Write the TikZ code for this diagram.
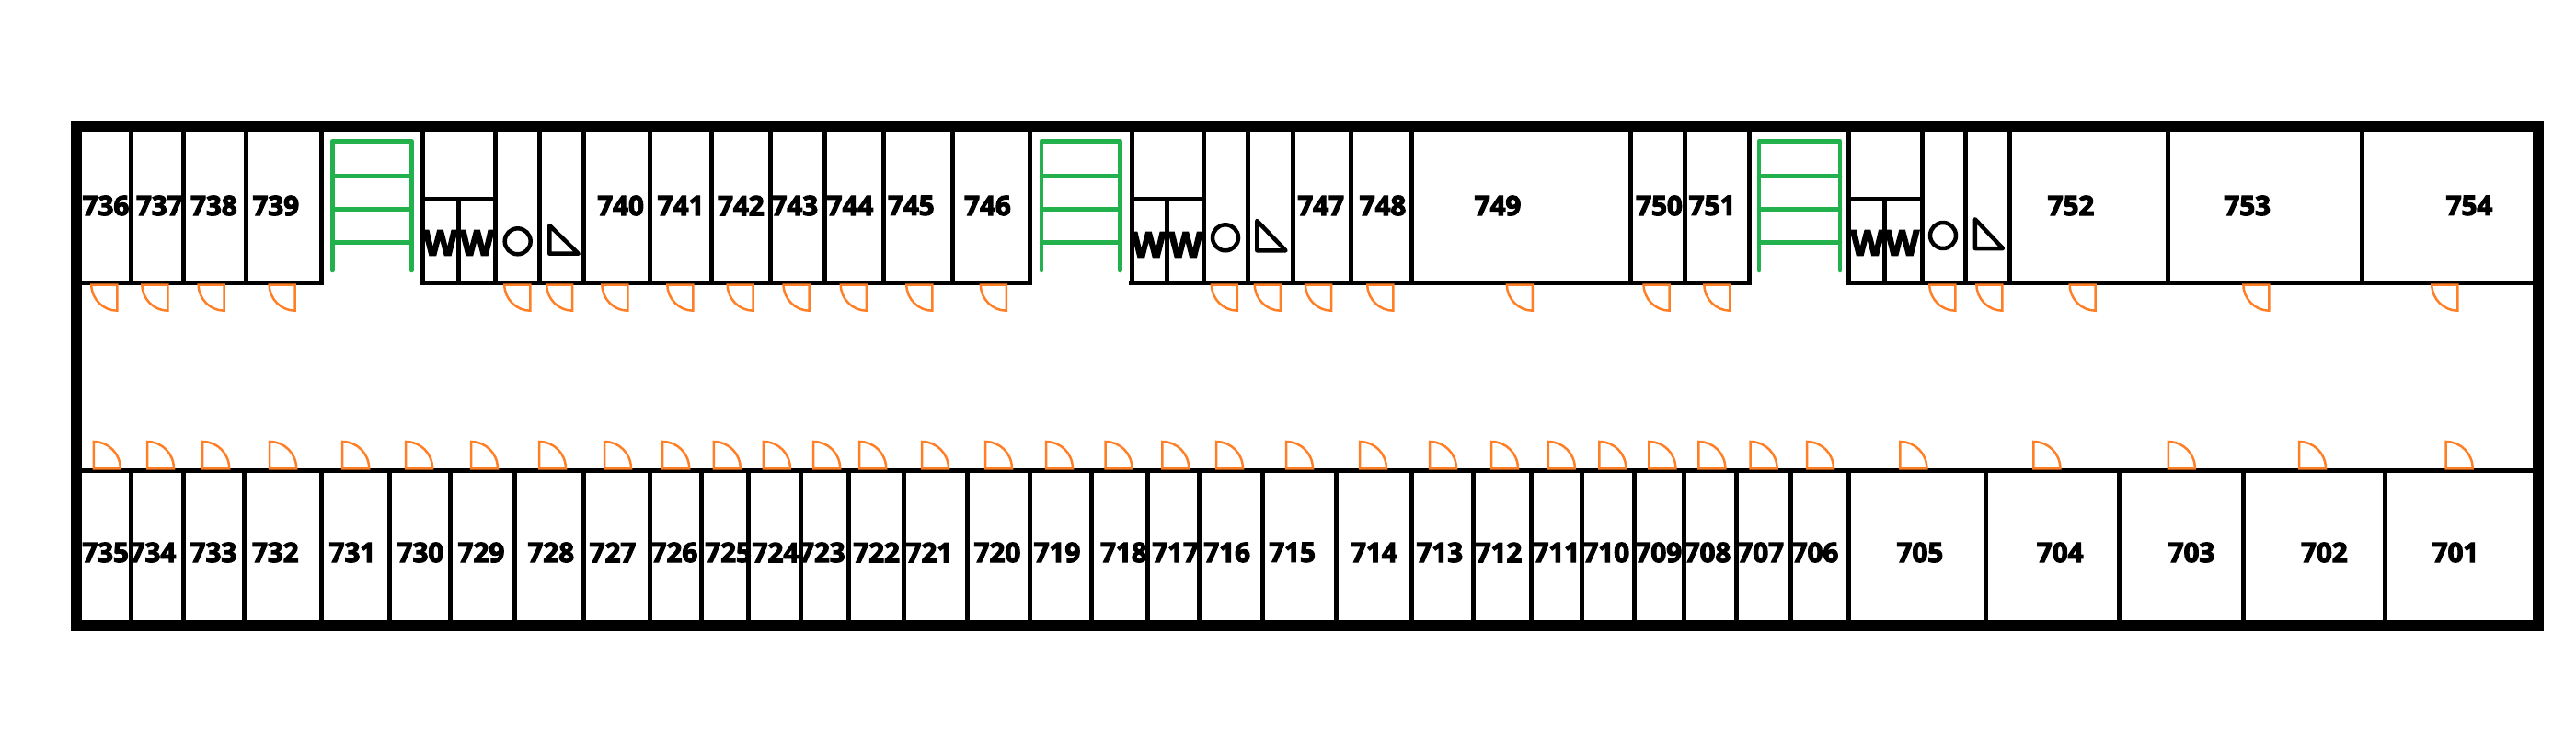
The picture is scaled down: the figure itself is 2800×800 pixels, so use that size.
\documentclass[tikz,border=0pt]{standalone}
\usepackage{fontspec}
\setmainfont{Open Sans}[BoldFeatures={FakeBold=4}]
\begin{document}
\begin{tikzpicture}[x=1pt,y=-1pt]
		\newcommand{\ytop}{142} % inner side of the top wall
		\newcommand{\yupper}{307.3} % upper side of the corridor
		\newcommand{\ylower}{511.3} % lower side of the corridor
		\newcommand{\ybot}{675}
		\newcommand{\ylabtop}{223.5}
		\newcommand{\ylabbot}{600.5}

		% set the styles of the plan
		\tikzset{
			outer/.style={line width=12pt},
			wall/.style={line width=5pt},
			part/.style={line width=5pt},
			stairs/.style={draw={rgb,255:red,34;green,177;blue,76},line width=4.5pt,line cap=round,line join=round},
			door/.style={draw={rgb,255:red,255;green,127;blue,39},line width=2.5pt},
			glyph/.style={line width=4.5pt,line join=round},
			room/.style={inner sep=0pt,font=\bfseries\fontsize{29.5}{30}\selectfont},
			wc/.style={inner sep=0pt,font=\bfseries\fontsize{38}{38}\selectfont}
		}
		\newcommand{\doorup}[1]{\draw[door] (#1,309.5) -- (#1-28,309.5) .. controls (#1-28,325) and (#1-15,337.7) .. (#1,337.7) -- cycle;}
		\newcommand{\doordown}[1]{\draw[door] (#1,509.3) -- (#1,480) .. controls (#1+16,480) and (#1+29,493) .. (#1+29,509.3) -- cycle;}
		\newcommand{\ladder}[2]{\draw[stairs] (#1,294) -- (#1,153.3) -- (#2,153.3) -- (#2,294);
			\draw[stairs] (#1,191.7) -- (#2,191.7);
			\draw[stairs] (#1,227.3) -- (#2,227.3);
			\draw[stairs] (#1,263.3) -- (#2,263.3);}

		\useasboundingbox (0,0) rectangle (2800,800);

		% walls
		\draw[wall] (89,\yupper) -- (352,\yupper);
		\draw[wall] (457,\yupper) -- (1122,\yupper);
		\draw[wall] (1227,\yupper) -- (1904,\yupper);
		\draw[wall] (2007,\yupper) -- (2753,\yupper);
		\draw[wall] (89,\ylower) -- (2753,\ylower);

		% upper partitions
		\draw[part] (142.7,\ytop) -- (142.7,\yupper);
		\draw[part] (199.3,\ytop) -- (199.3,\yupper);
		\draw[part] (267.7,\ytop) -- (267.7,\yupper);
		\draw[part] (349.3,\ytop) -- (349.3,\yupper);
		\draw[part] (459.5,\ytop) -- (459.5,\yupper);
		\draw[part] (538.6,\ytop) -- (538.6,\yupper);
		\draw[part] (586.5,\ytop) -- (586.5,\yupper);
		\draw[part] (634.5,\ytop) -- (634.5,\yupper);
		\draw[part] (706.4,\ytop) -- (706.4,\yupper);
		\draw[part] (773.8,\ytop) -- (773.8,\yupper);
		\draw[part] (837,\ytop) -- (837,\yupper);
		\draw[part] (896.4,\ytop) -- (896.4,\yupper);
		\draw[part] (960.2,\ytop) -- (960.2,\yupper);
		\draw[part] (1035.2,\ytop) -- (1035.2,\yupper);
		\draw[part] (1119.4,\ytop) -- (1119.4,\yupper);
		\draw[part] (1230,\ytop) -- (1230,\yupper);
		\draw[part] (1308.7,\ytop) -- (1308.7,\yupper);
		\draw[part] (1356.6,\ytop) -- (1356.6,\yupper);
		\draw[part] (1405,\ytop) -- (1405,\yupper);
		\draw[part] (1468.4,\ytop) -- (1468.4,\yupper);
		\draw[part] (1534,\ytop) -- (1534,\yupper);
		\draw[part] (1772.4,\ytop) -- (1772.4,\yupper);
		\draw[part] (1831.6,\ytop) -- (1831.6,\yupper);
		\draw[part] (1901.9,\ytop) -- (1901.9,\yupper);
		\draw[part] (2009.2,\ytop) -- (2009.2,\yupper);
		\draw[part] (2089,\ytop) -- (2089,\yupper);
		\draw[part] (2136.4,\ytop) -- (2136.4,\yupper);
		\draw[part] (2184.5,\ytop) -- (2184.5,\yupper);
		\draw[part] (2356,\ytop) -- (2356,\yupper);
		\draw[part] (2567,\ytop) -- (2567,\yupper);

		% toilet blocks
		\draw[part] (459.5,216.3) -- (538.6,216.3);
		\draw[part] (498.8,216.3) -- (498.8,\yupper);
		\draw[part] (1230,216.3) -- (1308.7,216.3);
		\draw[part] (1268.4,216.3) -- (1268.4,\yupper);
		\draw[part] (2009.2,216.3) -- (2089,216.3);
		\draw[part] (2048.3,216.3) -- (2048.3,\yupper);

		% lower partitions
		\draw[part] (142.7,\ylower) -- (142.7,\ybot);
		\draw[part] (199.3,\ylower) -- (199.3,\ybot);
		\draw[part] (265.6,\ylower) -- (265.6,\ybot);
		\draw[part] (349.8,\ylower) -- (349.8,\ybot);
		\draw[part] (423.8,\ylower) -- (423.8,\ybot);
		\draw[part] (489.6,\ylower) -- (489.6,\ybot);
		\draw[part] (559.5,\ylower) -- (559.5,\ybot);
		\draw[part] (634.5,\ylower) -- (634.5,\ybot);
		\draw[part] (706.4,\ylower) -- (706.4,\ybot);
		\draw[part] (762.6,\ylower) -- (762.6,\ybot);
		\draw[part] (813.6,\ylower) -- (813.6,\ybot);
		\draw[part] (870.4,\ylower) -- (870.4,\ybot);
		\draw[part] (922.4,\ylower) -- (922.4,\ybot);
		\draw[part] (982.7,\ylower) -- (982.7,\ybot);
		\draw[part] (1051.5,\ylower) -- (1051.5,\ybot);
		\draw[part] (1119.4,\ylower) -- (1119.4,\ybot);
		\draw[part] (1186.7,\ylower) -- (1186.7,\ybot);
		\draw[part] (1247.4,\ylower) -- (1247.4,\ybot);
		\draw[part] (1303.6,\ylower) -- (1303.6,\ybot);
		\draw[part] (1372,\ylower) -- (1372,\ybot);
		\draw[part] (1452.6,\ylower) -- (1452.6,\ybot);
		\draw[part] (1534.7,\ylower) -- (1534.7,\ybot);
		\draw[part] (1601.5,\ylower) -- (1601.5,\ybot);
		\draw[part] (1664.4,\ylower) -- (1664.4,\ybot);
		\draw[part] (1719.2,\ylower) -- (1719.2,\ybot);
		\draw[part] (1776.9,\ylower) -- (1776.9,\ybot);
		\draw[part] (1830.9,\ylower) -- (1830.9,\ybot);
		\draw[part] (1887.1,\ylower) -- (1887.1,\ybot);
		\draw[part] (1946.3,\ylower) -- (1946.3,\ybot);
		\draw[part] (2009.2,\ylower) -- (2009.2,\ybot);
		\draw[part] (2158.6,\ylower) -- (2158.6,\ybot);
		\draw[part] (2303.6,\ylower) -- (2303.6,\ybot);
		\draw[part] (2438.3,\ylower) -- (2438.3,\ybot);
		\draw[part] (2592.1,\ylower) -- (2592.1,\ybot);

		% outer frame
		\draw[outer] (83,137) rectangle (2759.3,680);

		% stairs
		\ladder{361.3}{447.3}
		\ladder{1132}{1217.3}
		\ladder{1912}{2000}

		% circles and triangles
		\draw[glyph] (562.7,262.3) circle (14);
		\draw[glyph] (597.3,245) -- (597.3,275.7) -- (628.7,275.7) -- cycle;
		\draw[glyph] (1332,258.3) circle (14);
		\draw[glyph] (1366.3,240) -- (1366.3,272.3) -- (1397.5,272.3) -- cycle;
		\draw[glyph] (2112,256) circle (14);
		\draw[glyph] (2146.8,238.3) -- (2146.8,270) -- (2177,270) -- cycle;

		% toilet letters
		\node[wc] (wa) at (478.5,264) {W};
		\node[wc] (wb) at (518.5,264) {W};
		\node[wc] (wc) at (1248.5,266) {W};
		\node[wc] (wd) at (1288.8,266) {W};
		\node[wc] (we) at (2029.9,264) {W};
		\node[wc] (wf) at (2067.6,264) {W};

		% upper doors
		\doorup{127.3}
		\doorup{182.4}
		\doorup{243.7}
		\doorup{320.7}
		\doorup{576.3}
		\doorup{622.2}
		\doorup{682.4}
		\doorup{753.4}
		\doorup{818.7}
		\doorup{879.6}
		\doorup{941.8}
		\doorup{1013.3}
		\doorup{1093.9}
		\doorup{1344.9}
		\doorup{1391.8}
		\doorup{1447}
		\doorup{1514.3}
		\doorup{1665.9}
		\doorup{1814.6}
		\doorup{1880.4}
		\doorup{2125.3}
		\doorup{2176.4}
		\doorup{2277.7}
		\doorup{2466.4}
		\doorup{2671.3}

		% lower doors
		\doordown{101.8}
		\doordown{160}
		\doordown{220.2}
		\doordown{293.2}
		\doordown{372.2}
		\doordown{441.1}
		\doordown{512}
		\doordown{586}
		\doordown{657}
		\doordown{720.2}
		\doordown{775.8}
		\doordown{829.9}
		\doordown{884.2}
		\doordown{934.2}
		\doordown{1002}
		\doordown{1071}
		\doordown{1137}
		\doordown{1201.5}
		\doordown{1263.3}
		\doordown{1322}
		\doordown{1398}
		\doordown{1478}
		\doordown{1554}
		\doordown{1621}
		\doordown{1682.9}
		\doordown{1738.4}
		\doordown{1792.4}
		\doordown{1846.4}
		\doordown{1902.6}
		\doordown{1964}
		\doordown{2065.4}
		\doordown{2210.4}
		\doordown{2356.9}
		\doordown{2499}
		\doordown{2658.7}

		% upper room numbers
		\node[room] (r736) at (115,\ylabtop) {736};
		\node[room] (r737) at (173.3,\ylabtop) {737};
		\node[room] (r738) at (232.4,\ylabtop) {738};
		\node[room] (r739) at (299.8,\ylabtop) {739};
		\node[room] (r740) at (674.6,\ylabtop) {740};
		\node[room] (r741) at (740,\ylabtop) {741};
		\node[room] (r742) at (805.4,\ylabtop) {742};
		\node[room] (r743) at (863.8,\ylabtop) {743};
		\node[room] (r744) at (924,\ylabtop) {744};
		\node[room] (r745) at (990.3,\ylabtop) {745};
		\node[room] (r746) at (1073.5,\ylabtop) {746};
		\node[room] (r747) at (1435.7,\ylabtop) {747};
		\node[room] (r748) at (1503,\ylabtop) {748};
		\node[room] (r749) at (1628,\ylabtop) {749};
		\node[room] (r750) at (1803.5,\ylabtop) {750};
		\node[room] (r751) at (1861,\ylabtop) {751};
		\node[room] (r752) at (2251,\ylabtop) {752};
		\node[room] (r753) at (2442.7,\ylabtop) {753};
		\node[room] (r754) at (2684,\ylabtop) {754};

		% lower room numbers
		\node[room] (r735) at (114.6,\ylabbot) {735};
		\node[room] (r734) at (166,\ylabbot) {734};
		\node[room] (r733) at (232,\ylabbot) {733};
		\node[room] (r732) at (299.3,\ylabbot) {732};
		\node[room] (r731) at (383,\ylabbot) {731};
		\node[room] (r730) at (457,\ylabbot) {730};
		\node[room] (r729) at (523,\ylabbot) {729};
		\node[room] (r728) at (598.8,\ylabbot) {728};
		\node[room] (r727) at (666,\ylabbot) {727};
		\node[room] (r726) at (733,\ylabbot) {726};
		\node[room] (r725) at (791.6,\ylabbot) {725};
		\node[room] (r724) at (843,\ylabbot) {724};
		\node[room] (r723) at (893.4,\ylabbot) {723};
		\node[room] (r722) at (952.6,\ylabbot) {722};
		\node[room] (r721) at (1010,\ylabbot) {721};
		\node[room] (r720) at (1084,\ylabbot) {720};
		\node[room] (r719) at (1149,\ylabbot) {719};
		\node[room] (r718) at (1221.4,\ylabbot) {718};
		\node[room] (r717) at (1277.6,\ylabbot) {717};
		\node[room] (r716) at (1333.7,\ylabbot) {716};
		\node[room] (r715) at (1404.6,\ylabbot) {715};
		\node[room] (r714) at (1493.4,\ylabbot) {714};
		\node[room] (r713) at (1564.8,\ylabbot) {713};
		\node[room] (r712) at (1629,\ylabbot) {712};
		\node[room] (r711) at (1691.8,\ylabbot) {711};
		\node[room] (r710) at (1745.8,\ylabbot) {710};
		\node[room] (r709) at (1802.8,\ylabbot) {709};
		\node[room] (r708) at (1856,\ylabbot) {708};
		\node[room] (r707) at (1913.7,\ylabbot) {707};
		\node[room] (r706) at (1973,\ylabbot) {706};
		\node[room] (r705) at (2086.9,\ylabbot) {705};
		\node[room] (r704) at (2239.2,\ylabbot) {704};
		\node[room] (r703) at (2382,\ylabbot) {703};
		\node[room] (r702) at (2526.3,\ylabbot) {702};
		\node[room] (r701) at (2669,\ylabbot) {701};
\end{tikzpicture}
\end{document}
